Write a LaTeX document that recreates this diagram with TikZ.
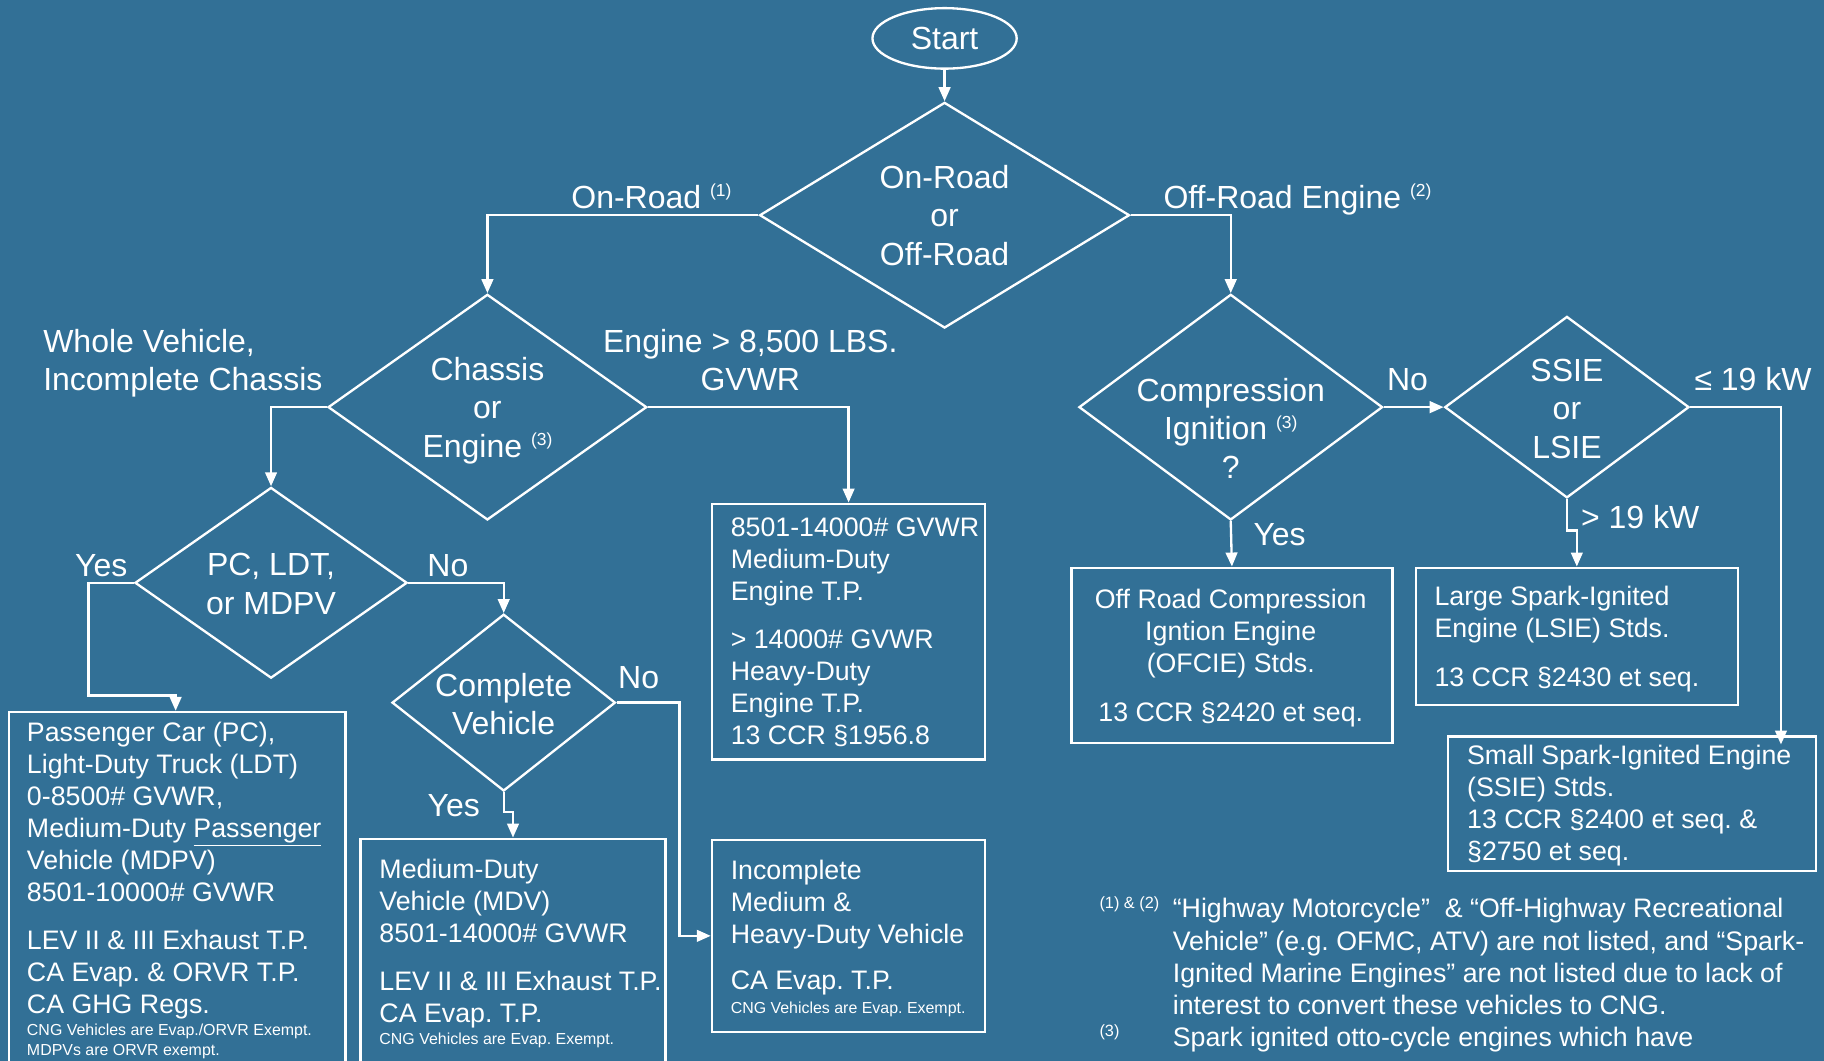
\documentclass[tikz,border=0pt]{standalone}
\usepackage{fontspec}
\setmainfont{Liberation Sans}
\usetikzlibrary{shapes.geometric,arrows.meta,calc}
\definecolor{bgblue}{RGB}{50,112,150}
\newcommand{\fnmark}[1]{\raisebox{10pt}{\fontsize{15}{15}\selectfont #1}}
\frenchspacing
\begin{document}
\begin{tikzpicture}[x=1pt,y=-1pt,
  ln/.style={draw=white, line width=2pt},
  arr/.style={draw=white, line width=2pt, -{Triangle[length=12pt,width=10pt]}},
  dia/.style={diamond, draw=white, line width=2pt, inner sep=0pt},
  bx/.style={rectangle, draw=white, line width=2pt, inner sep=0pt, anchor=north west},
  big/.style={font=\fontsize{27.5}{33}\selectfont, text=white, inner sep=0pt},
  mid/.style={font=\fontsize{23}{27.5}\selectfont, text=white, inner sep=0pt, align=left, anchor=base west},
  small/.style={font=\fontsize{13.7}{17}\selectfont, text=white, inner sep=0pt, align=left, anchor=base west},
  lab/.style={big, anchor=base},
]
\useasboundingbox (0,0) rectangle (1568,912);
\fill[bgblue] (0,0) rectangle (1568,912);

% ---- start and decisions
\node[ellipse, draw=white, line width=2pt, minimum width=124pt, minimum height=52pt, inner sep=0pt, big] (start) at (812,33) {Start};
\node[dia, minimum width=318pt, minimum height=194pt,
  label={[big,align=center]center:{On-Road\\or\\Off-Road}}] (orr) at (812,185) {};
\node[dia, minimum width=274pt, minimum height=194pt,
  label={[big,align=center,yshift=-3pt]center:{Chassis\\or\\Engine \fnmark{(3)}}}] (chs) at (419,350) {};
\node[dia, minimum width=234pt, minimum height=164pt,
  label={[big,align=center,yshift=-1pt]center:{PC, LDT,\\or MDPV}}] (pcd) at (233,501) {};
\node[dia, minimum width=192pt, minimum height=152pt,
  label={[big,align=center,yshift=-1pt]center:{Complete\\Vehicle}}] (cvd) at (433,604) {};
\node[dia, minimum width=261pt, minimum height=194pt,
  label={[big,align=center,yshift=-18pt]center:{Compression\\Ignition \fnmark{(3)}\\?}}] (cig) at (1058,350) {};
\node[dia, minimum width=210pt, minimum height=156pt,
  label={[big,align=center,yshift=-1.5pt]center:{SSIE\\or\\LSIE}}] (ssd) at (1347,350) {};

% ---- boxes
\node[bx, minimum width=289pt, minimum height=320pt] (pcbox) at (7,611) {};
\node[bx, minimum width=262pt, minimum height=210pt] (mdvbox) at (309,720) {};
\node[bx, minimum width=235pt, minimum height=165pt] (incbox) at (611,721) {};
\node[bx, minimum width=235pt, minimum height=220pt] (engbox) at (611,432) {};
\node[bx, minimum width=276pt, minimum height=151pt] (ofcbox) at (920,487) {};
\node[bx, minimum width=277pt, minimum height=118pt] (lsiebox) at (1216,487) {};
\node[bx, minimum width=316pt, minimum height=116pt] (ssiebox) at (1244,632) {};

% ---- box texts (anchored at the baseline of their last line)
\node[mid] (pctxt) at (23,871) {Passenger Car (PC),\\Light-Duty Truck (LDT)\\0-8500\# GVWR,\\Medium-Duty \underline{Passenger}\\Vehicle (MDPV)\\8501-10000\# GVWR\\[13.5pt]LEV II \& III Exhaust T.P.\\CA Evap. \& ORVR T.P.\\CA GHG Regs.};
\node[small] (pcsmall) at (23,907) {CNG Vehicles are Evap./ORVR Exempt.\\MDPVs are ORVR exempt.};
\node[mid] (mdvtxt) at (326,879) {Medium-Duty\\Vehicle (MDV)\\8501-14000\# GVWR\\[13.5pt]LEV II \& III Exhaust T.P.\\CA Evap. T.P.};
\node[small] (mdvsmall) at (326,898) {CNG Vehicles are Evap. Exempt.};
\node[mid] (inctxt) at (628,851) {Incomplete\\Medium \&\\Heavy-Duty Vehicle\\[12.5pt]CA Evap. T.P.};
\node[small] (incsmall) at (628,871) {CNG Vehicles are Evap. Exempt.};
\node[mid] (engtxt) at (628,640) {8501-14000\# GVWR\\Medium-Duty\\Engine T.P.\\[13.5pt]> 14000\# GVWR\\Heavy-Duty\\Engine T.P.\\13 CCR §1956.8};
\node[mid, align=center, anchor=base] (ofctxt) at (1058,620) {Off Road Compression\\Igntion Engine\\(OFCIE) Stds.\\[14.5pt]13 CCR §2420 et seq.};
\node[mid] (lsietxt) at (1233,590) {Large Spark-Ignited\\Engine (LSIE) Stds.\\[14.5pt]13 CCR §2430 et seq.};
\node[mid] (ssietxt) at (1261,740) {Small Spark-Ignited Engine\\(SSIE) Stds.\\13 CCR §2400 et seq. \&\\§2750 et seq.};

% ---- footnotes
\node[small, font=\fontsize{14}{17}\selectfont] (fn12) at (945,781) {(1) \& (2)};
\node[mid, font=\fontsize{23}{27.75}\selectfont] (fntxt) at (1008,900) {“Highway Motorcycle”~ \& “Off-Highway Recreational\\Vehicle” (e.g. OFMC, ATV) are not listed, and “Spark-\\Ignited Marine Engines” are not listed due to lack of\\interest to convert these vehicles to CNG.\\Spark ignited otto-cycle engines which have};
\node[small, font=\fontsize{14}{17}\selectfont] (fn3) at (945,891) {(3)};

% ---- edge labels
\node[big, anchor=base west] (lonroad) at (491,179) {On-Road \fnmark{(1)}};
\node[big, anchor=base west] (loffroad) at (1000,179) {Off-Road Engine \fnmark{(2)}};
\node[big, align=left, anchor=base west] (lwhole) at (37,336) {Whole Vehicle,\\Incomplete Chassis};
\node[big, align=center, anchor=base] (lengine) at (645,336) {Engine > 8,500 LBS.\\GVWR};
\node[lab] (lyes1) at (87,496) {Yes};
\node[lab] (lno1) at (385,496) {No};
\node[lab] (lno2) at (549,592) {No};
\node[lab] (lyes2) at (390,702) {Yes};
\node[lab] (lno3) at (1210,336) {No};
\node[lab] (lle19) at (1507,336) {≤ 19 kW};
\node[lab] (lgt19) at (1410,454) {> 19 kW};
\node[lab] (lyes3) at (1100,469) {Yes};

% ---- connectors
\coordinate (pcbend) at (76,598);
\coordinate (pcin) at (151,611);
\coordinate (ssin) at (1531,640);
\draw[arr] (start.south) -- (orr.north);
\draw[arr] (orr.west) -| (chs.north);
\draw[arr] (orr.east) -| (cig.north);
\draw[arr] (chs.west) -| (pcd.north);
\draw[arr] (chs.east) -| (engbox.north);
\draw[arr] (pcd.west) -| (pcbend) -| (pcin);
\draw[arr] (pcd.east) -| (cvd.north);
\draw[arr] (cvd.east) -- ++(54,0) |- (incbox.west);
\draw[arr] (cvd.south) -- ++(0,17) -| (mdvbox.north);
\draw[arr] (cig.south) -- (ofcbox.north);
\draw[arr] (cig.east) -- (ssd.west);
\draw[arr] (ssd.east) -| (ssin);
\draw[arr] (ssd.south) -- ++(0,27) -| (lsiebox.north);
\end{tikzpicture}
\end{document}
